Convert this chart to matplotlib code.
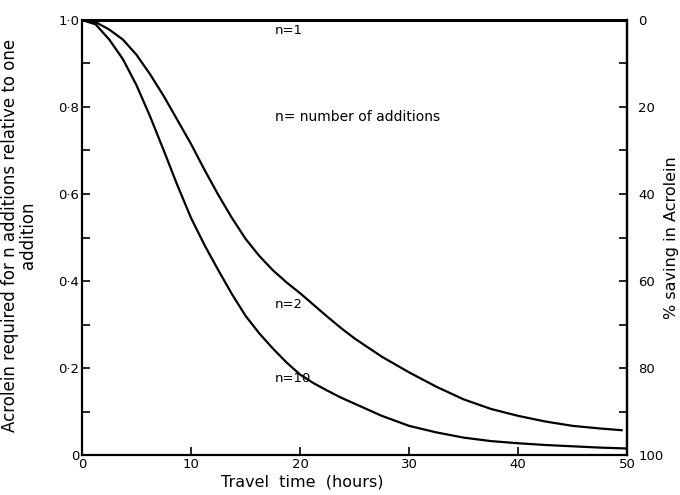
import matplotlib
matplotlib.use("Agg")
import matplotlib.pyplot as plt
from matplotlib.ticker import MultipleLocator

# travel time (hours) and acrolein required
hours2 = [0, 1.25, 2.5, 3.75, 5, 6.25, 7.5, 8.75, 10, 11.25, 12.5, 13.75, 15,
          16.25, 17.5, 18.75, 20, 21.25, 22.5, 23.75, 25, 27.5, 30, 32.5, 35,
          37.5, 40, 42.5, 45, 47.5, 49.5]
n2 = [1.0, 0.995, 0.978, 0.955, 0.92, 0.875, 0.825, 0.77, 0.715, 0.655, 0.598,
      0.545, 0.497, 0.458, 0.425, 0.397, 0.372, 0.345, 0.318, 0.292, 0.268,
      0.226, 0.19, 0.157, 0.128, 0.106, 0.09, 0.077, 0.067, 0.061, 0.057]
hours10 = [0, 1.25, 2.5, 3.75, 5, 6.25, 7.5, 8.75, 10, 11.25, 12.5, 13.75, 15,
           16.25, 17.5, 18.75, 20, 21.25, 22.5, 23.75, 25, 27.5, 30, 32.5, 35,
           37.5, 40, 42.5, 45, 47.5, 50]
n10 = [1.0, 0.99, 0.955, 0.91, 0.85, 0.778, 0.70, 0.62, 0.545, 0.482, 0.425,
       0.37, 0.32, 0.28, 0.245, 0.213, 0.185, 0.165, 0.148, 0.132, 0.118,
       0.09, 0.067, 0.052, 0.04, 0.032, 0.027, 0.023, 0.02, 0.017, 0.015]
hours1 = [0, 50]
n1 = [1.0, 1.0]

left_ticks = [0, 0.2, 0.4, 0.6, 0.8, 1.0]
left_labels = ["0", "0·2", "0·4", "0·6", "0·8", "1·0"]
x_ticks = [0, 10, 20, 30, 40, 50]
right_ticks = [0, 20, 40, 60, 80, 100]

plt.rcParams['font.family'] = ['DejaVu Sans']

fig = plt.figure(figsize=(6.8, 4.95), dpi=100)
ax = fig.add_axes([0.1206, 0.0808, 0.8016, 0.8788])

ax.plot(hours1, n1, color='black', lw=2.2, clip_on=False, solid_capstyle='butt')
ax.plot(hours2, n2, color='black', lw=1.6)
ax.plot(hours10, n10, color='black', lw=1.6)

ax.set_xlim(0, 50)
ax.set_ylim(0, 1.0)
ax.spines['top'].set_visible(False)
for s in ['left', 'bottom', 'right']:
    ax.spines[s].set_linewidth(1.6)

ax.set_xticks(x_ticks)
ax.set_xticklabels([str(v) for v in x_ticks])
ax.set_yticks(left_ticks)
ax.set_yticklabels(left_labels)
ax.yaxis.set_minor_locator(MultipleLocator(0.1))
ax.tick_params(axis='both', which='both', direction='in', labelsize=9.5, width=1.2)
ax.tick_params(axis='y', which='both', length=6, pad=2)
ax.tick_params(axis='x', which='major', length=6, pad=2)
ax.tick_params(top=False, right=False)

ax2 = ax.twinx()
ax2.set_ylim(100, 0)
ax2.set_yticks(right_ticks)
ax2.set_yticklabels([str(v) for v in right_ticks])
ax2.yaxis.set_minor_locator(MultipleLocator(10))
ax2.tick_params(axis='y', which='both', direction='in', length=6, width=1.2,
                labelsize=9.5, pad=8)
for s in ['top', 'left', 'bottom']:
    ax2.spines[s].set_visible(False)
ax2.spines['right'].set_linewidth(1.6)

ax.set_xlabel("Travel  time  (hours)", fontsize=11.5)
ax.xaxis.set_label_coords(0.404, -0.045)
ax.set_ylabel("Acrolein required for n additions relative to one\naddition",
              fontsize=12, linespacing=0.95)
ax.yaxis.set_label_coords(-0.083, 0.505)
ax2.set_ylabel("% saving in Acrolein", fontsize=11.5)
ax2.yaxis.set_label_coords(1.068, 0.5)

ax.text(17.7, 0.975, "n=1", fontsize=9.5, va='center')
ax.text(17.7, 0.777, "n= number of additions", fontsize=10, va='center')
ax.text(17.7, 0.345, "n=2", fontsize=9.5, va='center')
ax.text(17.7, 0.177, "n=10", fontsize=9.5, va='center')

fig.savefig("out.png", dpi=100)
plt.close(fig)
